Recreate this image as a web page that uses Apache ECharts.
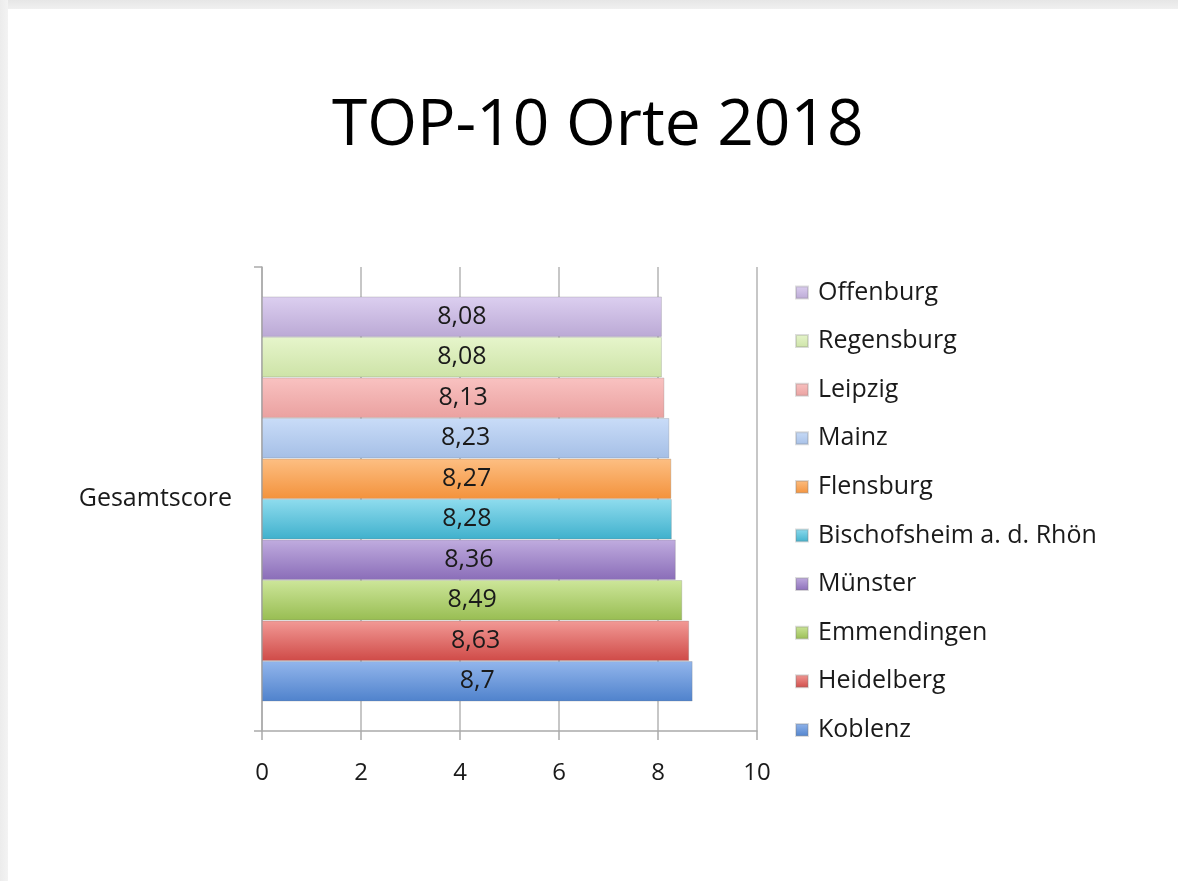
<!DOCTYPE html>
<html>
<head>
<meta charset="utf-8">
<script src="https://cdn.jsdelivr.net/npm/echarts@6/dist/echarts.min.js"></script>
<style>
  html, body { margin: 0; padding: 0; background: #ffffff; }
  #chart { position: absolute; left: 0; top: 0; width: 1178px; height: 881px; }
  #topstrip { position: absolute; left: 0; top: 0; width: 1178px; height: 9px;
    background: linear-gradient(to bottom, #e6e6e6, #f0f0f0); z-index: 5; }
  #leftstrip { position: absolute; left: 0; top: 0; width: 8px; height: 881px;
    background: linear-gradient(to right, #ececec, #f3f3f3); z-index: 5; }
</style>
</head>
<body>
<div id="chart"></div>
<div id="topstrip"></div>
<div id="leftstrip"></div>
<script>
// Data (top to bottom in the plot)
const categories = ['Gesamtscore'];
const cities = ['Offenburg', 'Regensburg', 'Leipzig', 'Mainz', 'Flensburg',
                'Bischofsheim a. d. Rhön', 'Münster', 'Emmendingen', 'Heidelberg', 'Koblenz'];
const scores = [8.08, 8.08, 8.13, 8.23, 8.27, 8.28, 8.36, 8.49, 8.63, 8.7];
const xTicks = [0, 2, 4, 6, 8, 10];

// gradient colours [top, bottom]
const palette = [
  ['#dccff0', '#bba9d5'],   // Offenburg
  ['#e6f5cb', '#cde3a7'],   // Regensburg
  ['#f9c2c1', '#eaa1a0'],   // Leipzig
  ['#c9dcf8', '#a5bfe6'],   // Mainz
  ['#fdbf83', '#f3923c'],   // Flensburg
  ['#8fdcee', '#3fb0cc'],   // Bischofsheim
  ['#c0acdf', '#8a6db8'],   // Münster
  ['#cde69a', '#98bd52'],   // Emmendingen
  ['#f29a96', '#cf4a47'],   // Heidelberg
  ['#93b6ec', '#4f82cc']    // Koblenz
];

const chart = echarts.init(document.getElementById('chart'), null, { renderer: 'canvas' });

const series = cities.map((name, i) => ({
  name: name,
  type: 'bar',
  data: [scores[i]],
  barGap: '0%',
  barCategoryGap: '12.7%',
  itemStyle: {
    color: {
      type: 'linear', x: 0, y: 0, x2: 0, y2: 1,
      colorStops: [
        { offset: 0, color: palette[i][0] },
        { offset: 1, color: palette[i][1] }
      ]
    },
    borderColor: 'rgba(120,120,120,0.25)',
    borderWidth: 1
  },
  label: {
    show: true,
    position: 'inside',
    color: '#1a1a1a',
    fontSize: 25,
    fontFamily: 'Open Sans',
    formatter: p => String(p.value).replace('.', ',')
  },
  emphasis: { disabled: true }
}));

const option = {
  animation: false,
  backgroundColor: '#ffffff',
  title: {
    text: 'TOP-10 Orte 2018',
    left: 327,
    top: 90,
    textStyle: { fontSize: 64, fontWeight: 'normal', color: '#000', fontFamily: 'Open Sans' }
  },
  legend: {
    orient: 'vertical',
    left: 790,
    top: 275,
    data: cities,
    icon: 'rect',
    itemWidth: 12,
    itemHeight: 12,
    itemGap: 23.6,
    textStyle: { fontSize: 25, color: '#1a1a1a', fontFamily: 'Open Sans', padding: [0, 0, 0, 5] },
    selectedMode: false
  },
  grid: { left: 262, right: 421, top: 267, bottom: 150, containLabel: false },
  xAxis: {
    type: 'value',
    min: 0, max: 10, interval: 2,
    axisLine: { show: true, lineStyle: { color: '#aaaaaa', width: 1.5 } },
    axisTick: { show: true, length: 9, lineStyle: { color: '#aaaaaa', width: 1.5 } },
    splitLine: { show: true, lineStyle: { color: '#b5b5b5', width: 1.5 } },
    axisLabel: { fontSize: 24, color: '#1a1a1a', margin: 30, fontFamily: 'Open Sans',
      formatter: v => String(v) }
  },
  yAxis: {
    type: 'category',
    data: categories,
    axisLine: { show: true, lineStyle: { color: '#aaaaaa', width: 1.5 } },
    axisTick: { show: true, length: 8, lineStyle: { color: '#aaaaaa', width: 1.5 } },
    axisLabel: { fontSize: 25, color: '#1a1a1a', margin: 30, fontFamily: 'Open Sans',
      padding: [4, 0, 0, 0] }
  },
  series: series
};

chart.setOption(option);
</script>
</body>
</html>
